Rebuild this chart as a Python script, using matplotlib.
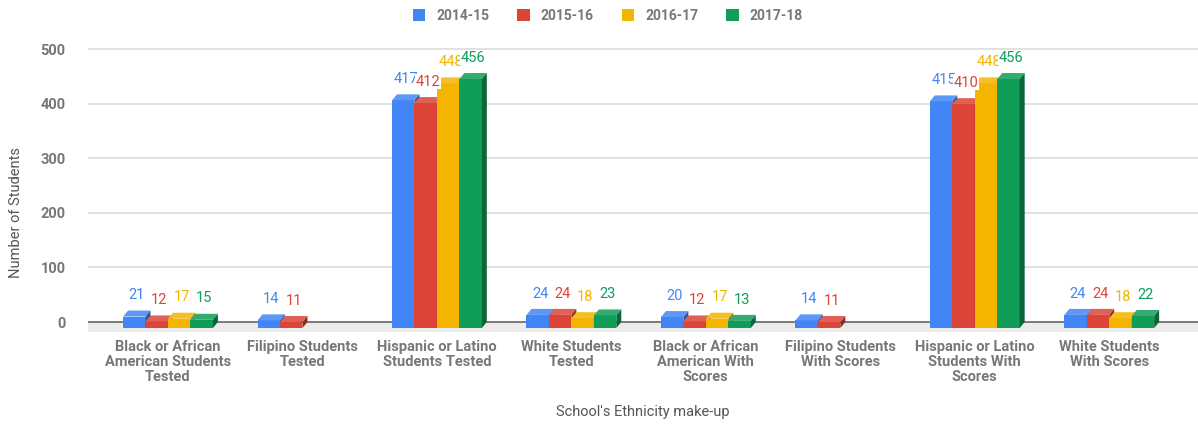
import numpy as np
import matplotlib
matplotlib.use("Agg")
import matplotlib.pyplot as plt
from matplotlib.patches import Polygon, Rectangle, Patch
from matplotlib import colors as mcolors

plt.rcParams['font.family'] = ['Roboto', 'DejaVu Sans']

categories = [
    "Black or African\nAmerican Students\nTested",
    "Filipino Students\nTested",
    "Hispanic or Latino\nStudents Tested",
    "White Students\nTested",
    "Black or African\nAmerican With\nScores",
    "Filipino Students\nWith Scores",
    "Hispanic or Latino\nStudents With\nScores",
    "White Students\nWith Scores",
]
series_names = ["2014-15", "2015-16", "2016-17", "2017-18"]
v_2014 = [21, 14, 417, 24, 20, 14, 415, 24]
v_2015 = [12, 11, 412, 24, 12, 11, 410, 24]
v_2016 = [17, None, 448, 18, 17, None, 448, 18]
v_2017 = [15, None, 456, 23, 13, None, 456, 22]
series = [v_2014, v_2015, v_2016, v_2017]
bar_colors = ["#4285F4", "#DB4437", "#F4B400", "#0F9D58"]

def shade(c, f):
    r, g, b = mcolors.to_rgb(c)
    return (r * f, g * f, b * f)

def lighten(c, f):
    r, g, b = mcolors.to_rgb(c)
    return (r + (1 - r) * f, g + (1 - g) * f, b + (1 - b) * f)

fig = plt.figure(figsize=(11.98, 4.24), dpi=100)
ax = fig.add_axes([88 / 1198, 1 - 332 / 424, 1 - 88 / 1198, 292 / 424])
ax.set_xlim(-0.595, 7.66)
ax.set_ylim(-18.3, 516.5)

w = 0.167      # bar width (category units)
dx = 0.037     # 3d depth, x
dy = 11        # 3d depth, y (value units)

# gridlines on back wall
for t in range(100, 501, 100):
    ax.axhline(t, color="#dcdcdc", lw=1.2, zorder=0)

# floor
ax.add_patch(Polygon([(-0.595, 0), (7.66, 0), (7.66, -18.3), (-0.655, -18.3)],
                     closed=True, facecolor="#ebebeb", edgecolor="none", zorder=0.5))
ax.axhline(0, color="#666666", lw=1.2, zorder=0.6)

for j, vals in enumerate(series):
    c = bar_colors[j]
    for i, v in enumerate(vals):
        if v is None:
            continue
        x0 = i + (j - 2) * w
        z = 2 + i * 0.01 + j * 0.001
        front = Rectangle((x0, -dy), w, v, facecolor=c, edgecolor="none", zorder=z)
        top = Polygon([(x0, v - dy), (x0 + w, v - dy), (x0 + w + dx, v), (x0 + dx, v)],
                      closed=True, facecolor=lighten(c, 0.15), edgecolor="none", zorder=z)
        side = Polygon([(x0 + w, -dy), (x0 + w + dx, 0), (x0 + w + dx, v), (x0 + w, v - dy)],
                       closed=True, facecolor=shade(c, 0.65), edgecolor="none", zorder=z)
        for p in (front, top, side):
            ax.add_patch(p)

# value labels, drawn after bars so later ones cover earlier ones
for i in range(len(categories)):
    for j, vals in enumerate(series):
        v = vals[i]
        if v is None:
            continue
        x0 = i + (j - 2) * w
        ax.annotate(str(v), (x0 + w / 2 + dx / 2, v), xytext=(0, 6),
                    textcoords="offset points", ha="center", va="bottom",
                    fontsize=10.5, color=bar_colors[j], zorder=10 + j,
                    bbox=dict(facecolor="white", edgecolor="none", pad=0.3))

ax.set_yticks(range(0, 501, 100))
ax.set_xticks(range(len(categories)))
ax.set_xticklabels(categories, fontsize=10.5, color="#777777", fontweight="bold",
                   linespacing=1.08)
for lab in ax.get_yticklabels():
    lab.set_fontsize(10.5)
    lab.set_color("#777777")
    lab.set_fontweight("bold")
ax.tick_params(axis="both", length=0)
ax.tick_params(axis="y", pad=16)
ax.tick_params(axis="x", pad=6)
for s in ax.spines.values():
    s.set_visible(False)

fig.text(16 / 1198, 1 - 213 / 424, "Number of Students", rotation=90,
         ha="center", va="center", fontsize=10.5, color="#555555")
fig.text(643 / 1198, 1 - 412 / 424, "School's Ethnicity make-up",
         ha="center", va="center", fontsize=10.5, color="#555555")

handles = [Patch(facecolor=c, edgecolor="none") for c in bar_colors]
leg = fig.legend(handles, series_names, loc="center", bbox_to_anchor=(608 / 1198, 1 - 16 / 424),
                 ncol=4, frameon=False, fontsize=10, handlelength=0.9, handleheight=0.9,
                 columnspacing=2.0, handletextpad=0.8)
for t in leg.get_texts():
    t.set_color("#777777")
    t.set_fontweight("bold")

fig.savefig("out.png", dpi=100, facecolor="white")
